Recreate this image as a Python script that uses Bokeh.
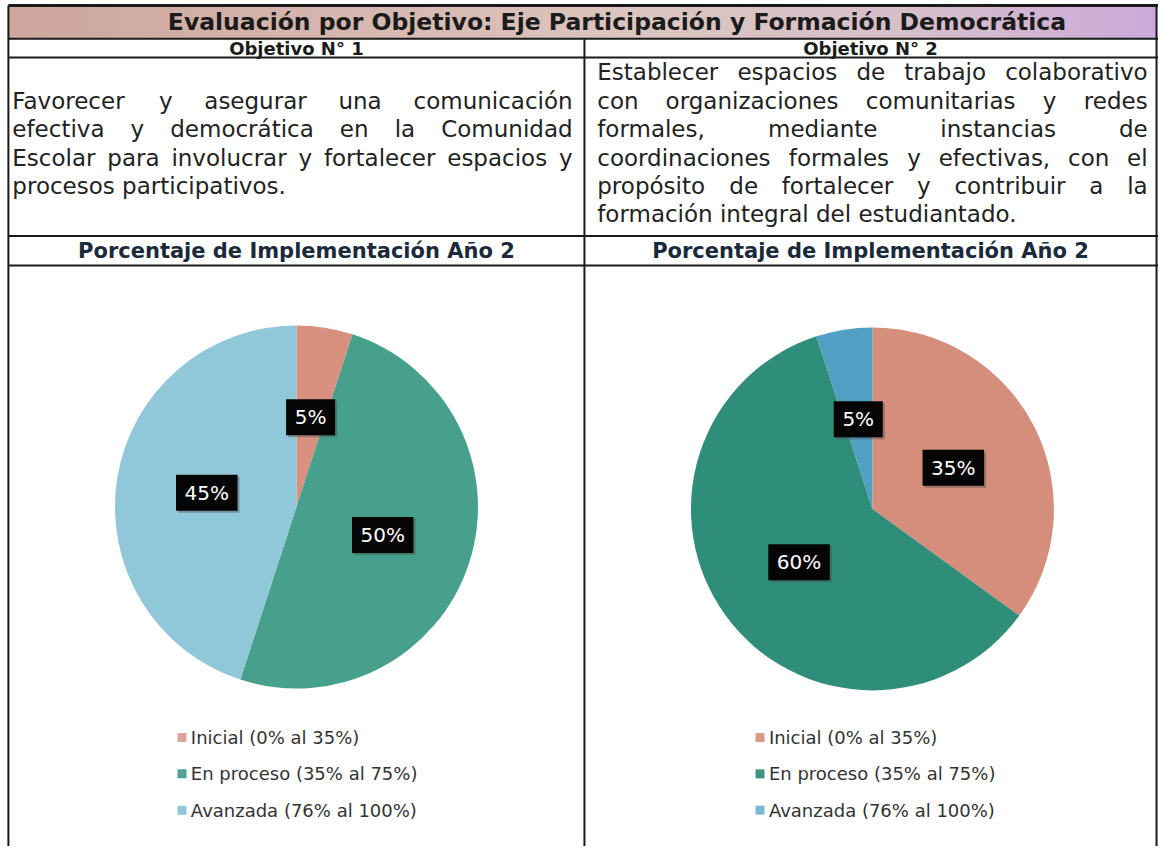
import numpy as np
from bokeh.plotting import figure
from bokeh.models import Range1d
from bokeh.core.properties import value
from bokeh.embed import file_html
from bokeh.resources import INLINE

# ---------------- data ----------------
title_text = "Evaluación por Objetivo: Eje Participación y Formación Democrática"
objective_titles = ["Objetivo N° 1", "Objetivo N° 2"]
objective1_lines = [
    "Favorecer y asegurar una comunicación",
    "efectiva y democrática en la Comunidad",
    "Escolar para involucrar y fortalecer espacios y",
    "procesos participativos.",
]
objective2_lines = [
    "Establecer espacios de trabajo colaborativo",
    "con organizaciones comunitarias y redes",
    "formales, mediante instancias de",
    "coordinaciones formales y efectivas, con el",
    "propósito de fortalecer y contribuir a la",
    "formación integral del estudiantado.",
]
chart_title = "Porcentaje de Implementación Año 2"
categories = ["Inicial (0% al 35%)", "En proceso (35% al 75%)", "Avanzada (76% al 100%)"]
obj1_values = [5, 50, 45]
obj2_values = [35, 60, 5]

# ---------------- styles ----------------
pie1_colors = ["#D9917F", "#46A08C", "#90C8DA"]
pie2_colors = ["#D58E7C", "#2F8E7A", "#519FC2"]
leg1_colors = ["#DDA39B", "#4FA096", "#92C7DA"]
leg2_colors = ["#DC9A86", "#3F9482", "#7DB8D6"]
BODY_FONT = "DejaVu Sans"

W, H = 1158, 846
SX, SY = W / 1174, H / 862


def px(X):
    return X * SX


def py(Y):
    return H - Y * SY


# approximate DejaVu Sans advance widths (em)
CW = {' ': .318, 'a': .613, 'b': .635, 'c': .550, 'd': .635, 'e': .615, 'f': .352, 'g': .635,
      'h': .634, 'i': .278, 'j': .278, 'k': .579, 'l': .278, 'm': .974, 'n': .634, 'o': .612,
      'p': .635, 'q': .635, 'r': .411, 's': .521, 't': .392, 'u': .634, 'v': .592, 'w': .818,
      'x': .592, 'y': .592, 'z': .525, 'E': .632, 'F': .575, 'C': .698, ',': .318, '.': .318,
      'á': .613, 'é': .615, 'í': .278, 'ó': .612, 'ú': .634}

p = figure(width=W, height=H, x_range=Range1d(0, W), y_range=Range1d(0, H),
           output_backend="svg", toolbar_location=None, min_border=0,
           x_axis_location=None, y_axis_location=None)
p.grid.visible = False
p.outline_line_color = None
p.background_fill_color = "white"
p.border_fill_color = "white"

# title band gradient
N = 200
stops_t = [0.0, 0.3, 0.55, 0.8, 1.0]
stops_c = [(206, 166, 156), (214, 184, 176), (220, 198, 192), (214, 190, 204), (204, 170, 218)]
img = np.zeros((1, N), dtype=np.uint32)
view = img.view(dtype=np.uint8).reshape((1, N, 4))
t = np.linspace(0, 1, N)
for k in range(3):
    view[0, :, k] = np.interp(t, stops_t, [c[k] for c in stops_c]).astype(np.uint8)
view[0, :, 3] = 255
p.image_rgba(image=[img], x=px(8), y=py(39), dw=px(1172) - px(8), dh=py(5) - py(39))

# table lines
LC = "#1a1a1a"
for Y, lw in [(5, 3), (39, 2), (58, 2), (240, 2), (270, 2)]:
    p.line([px(8), px(1174)], [py(Y), py(Y)], line_color=LC, line_width=lw)
p.line([px(8), px(8)], [py(5), py(862)], line_color=LC, line_width=2)
p.line([px(1172), px(1172)], [py(5), py(862)], line_color=LC, line_width=2)
p.line([px(592), px(592)], [py(39), py(862)], line_color=LC, line_width=2)

# title
p.text(x=[px(625)], y=[py(22)], text=[title_text], text_font=value(BODY_FONT),
       text_font_style="bold", text_font_size="23.5px", text_align="center",
       text_baseline="middle", text_color="#1b1b1b")

col_centers = [300, 882]
for cx, lab in zip(col_centers, objective_titles):
    p.text(x=[px(cx)], y=[py(49)], text=[lab], text_font=value(BODY_FONT),
           text_font_style="bold", text_font_size="18px", text_align="center",
           text_baseline="middle", text_color="#1b1b1b")
    p.text(x=[px(cx)], y=[py(255)], text=[chart_title], text_font=value(BODY_FONT),
           text_font_style="bold", text_font_size="21px", text_align="center",
           text_baseline="middle", text_color="#1b2a3a")

BODY_SIZE = 23


def place_paragraph(lines, X0, X1, y0, dy):
    x0, x1 = px(X0), px(X1)
    for i, line in enumerate(lines):
        yy = py(y0 + i * dy)
        words = line.split(" ")
        last = i == len(lines) - 1
        if last or len(words) == 1:
            p.text(x=[x0], y=[yy], text=[line], text_font=value(BODY_FONT),
                   text_font_size=f"{BODY_SIZE}px", text_align="left",
                   text_baseline="middle", text_color="#222222")
            continue
        widths = [sum(CW.get(c, .6) for c in w) * BODY_SIZE for w in words]
        gap = (x1 - x0 - sum(widths)) / (len(words) - 1)
        xs = []
        x = x0
        for w in widths:
            xs.append(x)
            x += w + gap
        p.text(x=xs[:-1], y=[yy] * (len(words) - 1), text=words[:-1],
               text_font=value(BODY_FONT), text_font_size=f"{BODY_SIZE}px",
               text_align="left", text_baseline="middle", text_color="#222222")
        p.text(x=[x1], y=[yy], text=[words[-1]], text_font=value(BODY_FONT),
               text_font_size=f"{BODY_SIZE}px", text_align="right",
               text_baseline="middle", text_color="#222222")


place_paragraph(objective1_lines, 12, 580, 102, 29)
place_paragraph(objective2_lines, 605, 1163, 73, 29)


def draw_pie(values, cx, cy, R, colors, leg_colors, leg_x):
    vals = np.array(values, dtype=float)
    frac = vals / vals.sum()
    cum = np.concatenate([[0], np.cumsum(frac)])
    start = np.pi / 2 - cum[:-1] * 2 * np.pi
    end = np.pi / 2 - cum[1:] * 2 * np.pi
    r = R * SX
    p.wedge(x=[px(cx)] * len(vals), y=[py(cy)] * len(vals), radius=r,
            start_angle=list(start), end_angle=list(end), direction="clock",
            fill_color=colors, line_color=None)
    mid = (start + end) / 2
    lx = px(cx) + 0.5 * r * np.cos(mid)
    ly = py(cy) + 0.5 * r * np.sin(mid)
    labels = [f"{int(v)}%" for v in values]
    bw = [24 + 12.5 * len(s) for s in labels]
    p.rect(x=list(lx + 2), y=list(ly - 2), width=bw, height=[36] * len(labels),
           width_units="screen", height_units="screen", fill_color="#444444",
           fill_alpha=0.4, line_color=None)
    p.rect(x=list(lx), y=list(ly), width=bw, height=[36] * len(labels),
           width_units="screen", height_units="screen", fill_color="#050505",
           line_color=None)
    p.text(x=list(lx), y=list(ly), text=labels, text_font=value(BODY_FONT),
           text_font_size="20px", text_color="white", text_align="center",
           text_baseline="middle")
    # legend
    ys = [py(751 + 37 * i) for i in range(len(categories))]
    p.scatter(x=[px(leg_x)] * len(categories), y=ys, marker="square", size=9,
              fill_color=leg_colors, line_color=None)
    p.text(x=[px(leg_x + 9)] * len(categories), y=ys, text=categories,
           text_font=value(BODY_FONT), text_font_size="18px", text_color="#333333",
           text_align="left", text_baseline="middle")


draw_pie(obj1_values, 300, 516, 184, pie1_colors, leg1_colors, 184)
draw_pie(obj2_values, 884, 518, 184, pie2_colors, leg2_colors, 770)

open("out.html", "w").write(file_html(p, INLINE))
